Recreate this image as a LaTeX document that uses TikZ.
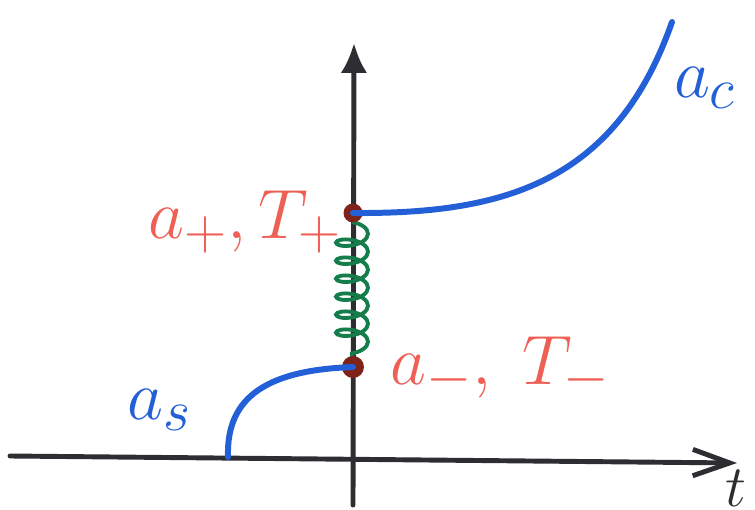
\documentclass[tikz,border=0pt]{standalone}
\usepackage{graphicx}
\usetikzlibrary{arrows.meta,decorations.pathmorphing}
\definecolor{axisgray}{RGB}{45,45,50}
\definecolor{penblue}{RGB}{35,95,215}
\definecolor{penred}{RGB}{238,95,85}
\definecolor{pengreen}{RGB}{20,125,75}
\definecolor{dotred}{RGB}{125,35,25}
\newcommand{\biglabel}[1]{\scalebox{1.6}{\Huge #1}}
\tikzset{
  axisline/.style={draw=axisgray,line width=2.8pt,line cap=round},
  bluecurve/.style={draw=penblue,line width=3.4pt,line cap=round},
  springline/.style={draw=pengreen,line width=2.2pt,decorate,
    decoration={coil,aspect=0.45,segment length=0.36cm,amplitude=0.32cm}},
  enddot/.style={circle,fill=dotred,inner sep=0pt,minimum size=#1},
  redlabel/.style={text=penred,inner sep=0pt},
  bluelabel/.style={text=penblue,inner sep=0pt},
  axislabel/.style={text=axisgray,inner sep=0pt}
}
\begin{document}
\begin{tikzpicture}[x=0.02cm,y=-0.02cm]
\useasboundingbox (0,0) rectangle (755,510);
% axes
\coordinate (hstart) at (10,456);
\coordinate (hend) at (737,463);
\coordinate (vstart) at (353,505);
\coordinate (vend) at (354,43);
\draw[axisline,-{Straight Barb[length=21pt,width=15pt,line width=2.8pt]}] (hstart) -- (hend);
\draw[axisline,-{Latex[length=17pt,width=15pt]}] (vstart) -- (vend);
% spring
\coordinate (sptop) at (352,222);
\coordinate (spbot) at (352,358);
\draw[springline] (sptop) -- (spbot);
% dots
\node[enddot=10.8pt] (plus) at (353,213) {};
\node[enddot=12.5pt] (minus) at (353,367) {};
% curves
\coordinate (sstart) at (228,457);
\coordinate (cend) at (672,22);
\draw[bluecurve] (sstart) .. controls (226,395) and (270,370) .. (minus.center);
\draw[bluecurve] (plus.center) .. controls (500,214) and (615,185) .. (cend);
% labels
\node[redlabel] (lplus) at (245,222) {\biglabel{$a_+,T_+$}};
\node[redlabel] (lminus) at (500,368) {\biglabel{$a_-,\;T_-$}};
\node[bluelabel] (las) at (160,410) {\biglabel{$a_s$}};
\node[bluelabel] (lac) at (705,88) {\biglabel{$a_c$}};
\node[axislabel,anchor=south east] (lt) at (747,507) {\scalebox{1.35}{\Huge $t$}};
\end{tikzpicture}
\end{document}
